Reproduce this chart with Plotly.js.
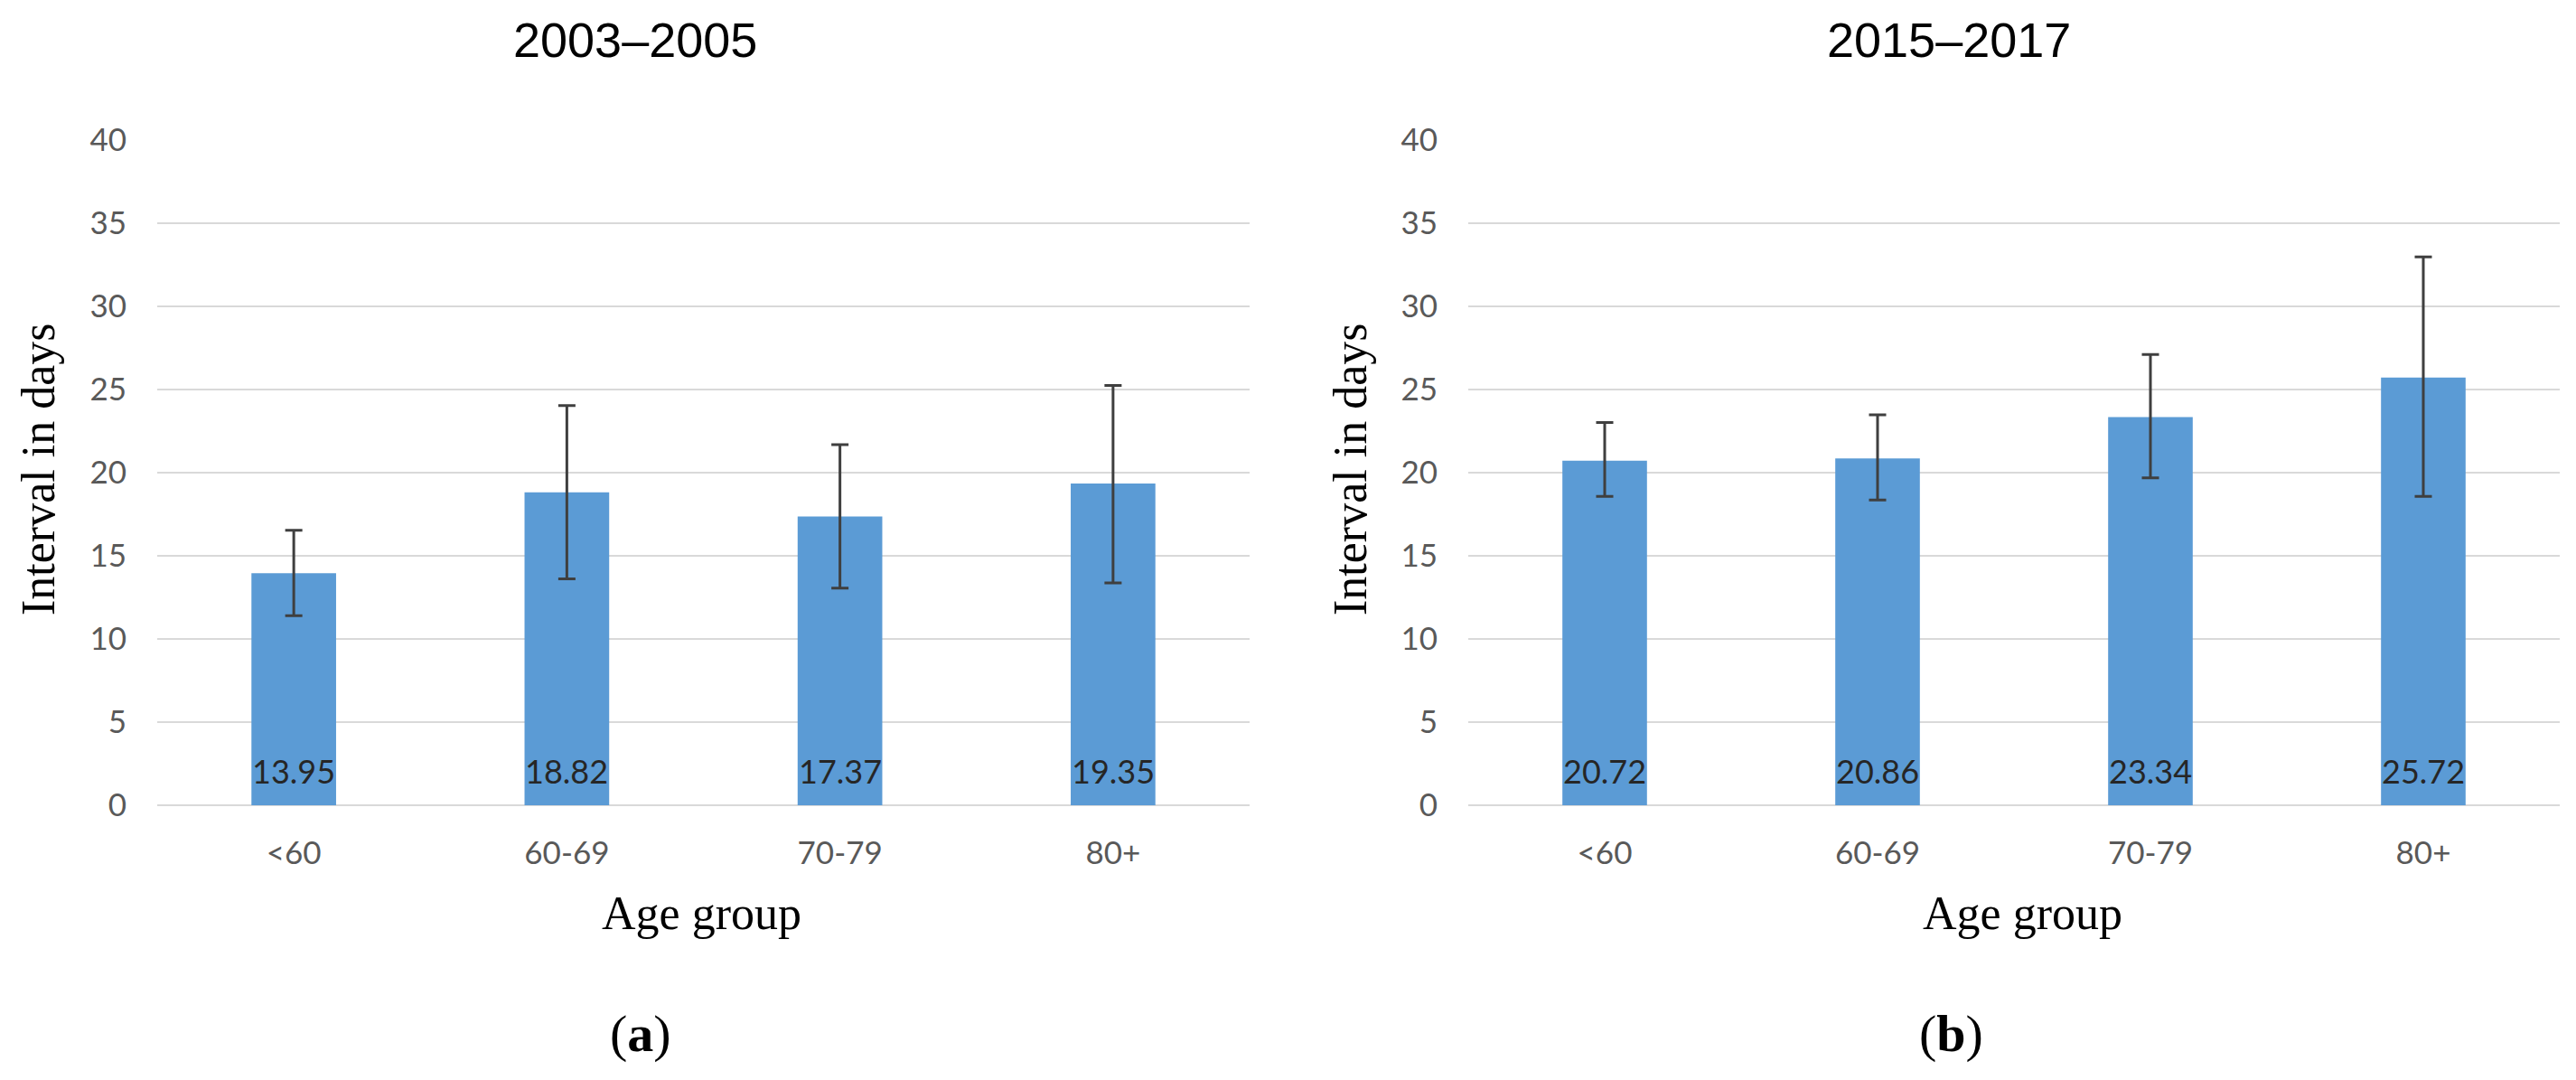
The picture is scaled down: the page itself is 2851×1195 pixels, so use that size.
<!DOCTYPE html>
<html>
<head>
<meta charset="utf-8">
<script src="https://cdn.plot.ly/plotly-3.0.1.min.js"></script>
<style>html,body{margin:0;padding:0;background:#fff}#chart{width:2851px;height:1195px}</style>
</head>
<body>
<div id="chart"></div>
<script>
// ---- data ----
var categories = ["<60", "60-69", "70-79", "80+"];
var panelTitles = ["2003\u20132005", "2015\u20132017"];
var panelLetters = ["a", "b"];
var meansA = [13.95, 18.82, 17.37, 19.35];
var errUpA = [2.58, 5.21, 4.32, 5.90];
var errDownA = [2.55, 5.20, 4.31, 5.98];
var meansB = [20.72, 20.86, 23.34, 25.72];
var errUpB = [2.30, 2.62, 3.77, 7.26];
var errDownB = [2.15, 2.50, 3.65, 7.15];
var yTicks = [0, 5, 10, 15, 20, 25, 30, 35, 40];
var xTitle = "Age group";
var yTitle = "Interval in days";

// ---- styling ----
var W = 2851, H = 1195;
var barColor = "#5B9BD5";
var gridColor = "#D9D9D9";
var sansFont = "Lato, 'Open Sans', sans-serif";
var serifFont = "'Liberation Serif', 'DejaVu Serif', serif";
var titleFont = "'Liberation Sans', Arial, sans-serif";

function barTrace(means, up, down, xa, ya) {
  return {
    type: "bar",
    x: categories,
    y: means,
    xaxis: xa,
    yaxis: ya,
    width: 0.31,
    marker: {color: barColor},
    error_y: {type: "data", symmetric: false, array: up, arrayminus: down,
              color: "#3F3F3F", thickness: 3, width: 9.5},
    hoverinfo: "x+y",
    showlegend: false
  };
}

var data = [barTrace(meansA, errUpA, errDownA, "x", "y"),
            barTrace(meansB, errUpB, errDownB, "x2", "y2")];

function xAxis(domain, anchor) {
  return {
    domain: domain, anchor: anchor, type: "category",
    range: [-0.5, categories.length - 0.5],
    showgrid: false, zeroline: false, showline: false,
    ticks: "outside", ticklen: 22, tickcolor: "rgba(0,0,0,0)",
    tickfont: {family: sansFont, size: 35, color: "#595959"},
    fixedrange: true
  };
}
function yAxis(anchor) {
  return {
    domain: [304 / H, 1040 / H], anchor: anchor,
    range: [0, 40], tickvals: yTicks,
    showgrid: true, gridcolor: gridColor, gridwidth: 2.5,
    zeroline: true, zerolinecolor: gridColor, zerolinewidth: 2.5,
    showline: false,
    ticks: "outside", ticklen: 26, tickcolor: "rgba(0,0,0,0)",
    tickfont: {family: sansFont, size: 35, color: "#595959"},
    fixedrange: true
  };
}

var annotations = [];
function addPanel(means, xa, ya, titleX, yTitleX, xTitleX, letterX, idx) {
  for (var i = 0; i < categories.length; i++) {
    annotations.push({
      xref: xa, yref: ya, x: categories[i], y: 0,
      text: means[i].toFixed(2), showarrow: false,
      yanchor: "middle", yshift: 38,
      font: {family: sansFont, size: 36, color: "#262626"}
    });
  }
  annotations.push({xref: "paper", yref: "paper", x: titleX / W, y: 1 - 44 / H,
    xanchor: "center", yanchor: "middle", showarrow: false,
    text: panelTitles[idx], font: {family: titleFont, size: 54, color: "#000"}});
  annotations.push({xref: "paper", yref: "paper", x: yTitleX / W, y: 1 - 520 / H,
    xanchor: "center", yanchor: "middle", showarrow: false, textangle: -90,
    text: yTitle, font: {family: serifFont, size: 52, color: "#000"}});
  annotations.push({xref: "paper", yref: "paper", x: xTitleX / W, y: 1 - 1010 / H,
    xanchor: "center", yanchor: "middle", showarrow: false,
    text: xTitle, font: {family: serifFont, size: 52, color: "#000"}});
  annotations.push({xref: "paper", yref: "paper", x: letterX / W, y: 1 - 1143 / H,
    xanchor: "center", yanchor: "middle", showarrow: false,
    text: "(<b>" + panelLetters[idx] + "</b>)", font: {family: serifFont, size: 58, color: "#000"}});
}
addPanel(meansA, "x", "y", 703, 42, 776, 709, 0);
addPanel(meansB, "x2", "y2", 2157, 1494, 2238, 2159, 1);

var layout = {
  width: W, height: H,
  margin: {l: 0, r: 0, t: 0, b: 0, pad: 0},
  paper_bgcolor: "#fff", plot_bgcolor: "#fff",
  xaxis: xAxis([174 / W, 1383 / W], "y"),
  yaxis: yAxis("x"),
  xaxis2: xAxis([1625 / W, 2833 / W], "y2"),
  yaxis2: yAxis("x2"),
  bargap: 0.69,
  annotations: annotations,
  showlegend: false
};

Plotly.newPlot("chart", data, layout, {displayModeBar: false, staticPlot: true});
</script>
</body>
</html>
